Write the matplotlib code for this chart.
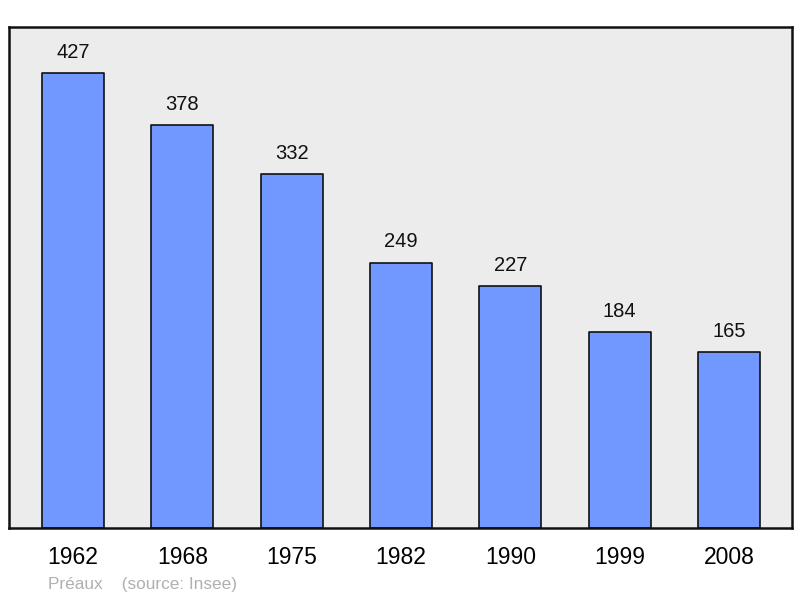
import numpy as np
import matplotlib
matplotlib.use('Agg')
from matplotlib import pyplot as plt

years = ['1962', '1968', '1975', '1982', '1990', '1999', '2008']
population = [427, 378, 332, 249, 227, 184, 165]

plt.rcParams['font.family'] = ['Liberation Sans', 'DejaVu Sans']

fig = plt.figure(figsize=(8, 5.98), dpi=100)
ax = fig.add_axes([9/800, 1 - 528/598, 783/800, 501/598])
ax.set_facecolor('#ececec')

x = np.arange(len(years))
bars = ax.bar(x, population, width=0.567, color='#7098ff', edgecolor='#111111',
              linewidth=1.2, joinstyle='round', zorder=2)
for xi, v in zip(x, population):
    ax.annotate(str(v), (xi, v), xytext=(0, 8), textcoords='offset points',
                ha='center', va='bottom', fontsize=14.5, color='#111111')

ax.set_xlim(-0.585, 6.576)
ax.set_ylim(0, 470)
ax.set_yticks([])
ax.set_xticks(x)
ax.set_xticklabels(years, fontsize=16.5)
ax.tick_params(axis='x', length=0, pad=13)
for s in ax.spines.values():
    s.set_linewidth(1.8)
    s.set_color('#111111')

fig.text(48/800, 1 - 584/598, 'Préaux    (source: Insee)', fontsize=12.4,
         color='#b0b0b0', va='center', ha='left')

fig.savefig('out.png', dpi=100)
